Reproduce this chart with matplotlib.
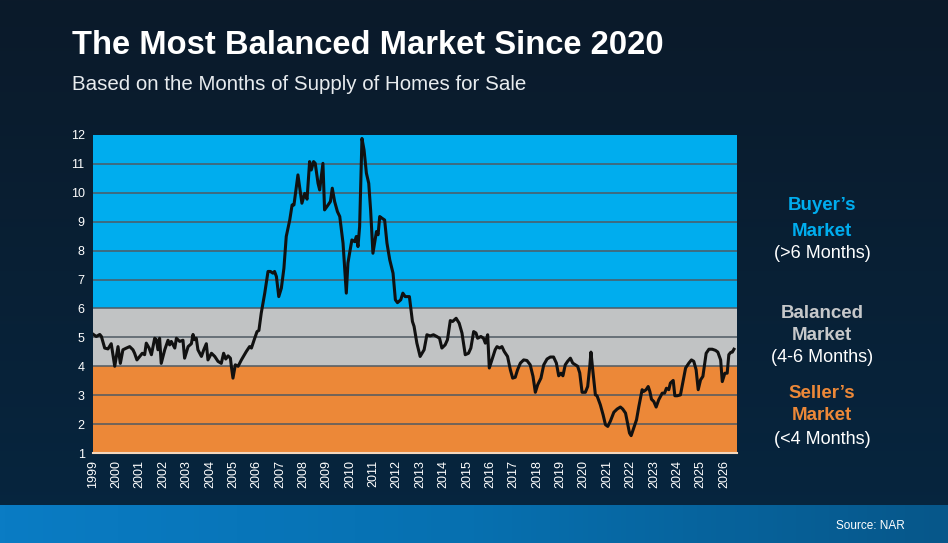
import numpy as np
import matplotlib.pyplot as plt
from matplotlib.colors import LinearSegmentedColormap

# months of supply (x = fractional year)
years = [1999.00, 1999.14, 1999.29, 1999.36, 1999.50, 1999.64, 1999.78, 1999.93, 2000.07, 2000.17,
         2000.28, 2000.43, 2000.57, 2000.71, 2000.78, 2000.88, 2001.00, 2001.11, 2001.21, 2001.28,
         2001.40, 2001.50, 2001.64, 2001.71, 2001.78, 2001.85, 2001.92, 2002.07, 2002.21, 2002.28,
         2002.35, 2002.50, 2002.57, 2002.71, 2002.85, 2002.92, 2003.07, 2003.21, 2003.28, 2003.35,
         2003.42, 2003.49, 2003.64, 2003.74, 2003.85, 2003.92, 2004.07, 2004.21, 2004.35, 2004.49,
         2004.59, 2004.68, 2004.78, 2004.88, 2004.92, 2004.99, 2005.09, 2005.21, 2005.35, 2005.56,
         2005.70, 2005.78, 2005.92, 2006.02, 2006.10, 2006.20, 2006.35, 2006.49, 2006.59, 2006.70,
         2006.77, 2006.85, 2006.95, 2007.06, 2007.17, 2007.27, 2007.42, 2007.52, 2007.60, 2007.77,
         2007.94, 2008.06, 2008.16, 2008.27, 2008.34, 2008.44, 2008.51, 2008.63, 2008.70, 2008.84,
         2008.91, 2009.06, 2009.16, 2009.24, 2009.34, 2009.46, 2009.56, 2009.70, 2009.84, 2009.91,
         2009.98, 2010.08, 2010.20, 2010.27, 2010.34, 2010.41, 2010.51, 2010.60, 2010.70, 2010.80,
         2010.88, 2010.98, 2011.05, 2011.13, 2011.20, 2011.27, 2011.37, 2011.48, 2011.58, 2011.70,
         2011.84, 2011.94, 2012.03, 2012.17, 2012.26, 2012.36, 2012.54, 2012.67, 2012.74, 2012.86,
         2013.00, 2013.17, 2013.29, 2013.43, 2013.57, 2013.71, 2013.83, 2013.93, 2014.07, 2014.17,
         2014.29, 2014.39, 2014.54, 2014.67, 2014.79, 2014.93, 2015.07, 2015.17, 2015.29, 2015.39,
         2015.46, 2015.60, 2015.71, 2015.79, 2015.89, 2015.96, 2016.07, 2016.21, 2016.29, 2016.40,
         2016.50, 2016.60, 2016.74, 2016.86, 2016.96, 2017.07, 2017.17, 2017.29, 2017.43, 2017.57,
         2017.71, 2017.83, 2017.93, 2018.03, 2018.17, 2018.29, 2018.43, 2018.57, 2018.71, 2018.83,
         2018.93, 2019.03, 2019.11, 2019.21, 2019.31, 2019.43, 2019.53, 2019.64, 2019.74, 2019.83,
         2019.93, 2020.07, 2020.17, 2020.26, 2020.31, 2020.40, 2020.50, 2020.57, 2020.71, 2020.83,
         2020.93, 2021.03, 2021.14, 2021.29, 2021.43, 2021.57, 2021.67, 2021.79, 2021.86, 2021.96,
         2022.03, 2022.14, 2022.26, 2022.36, 2022.50, 2022.57, 2022.67, 2022.76, 2022.83, 2022.90,
         2023.00, 2023.10, 2023.21, 2023.36, 2023.46, 2023.54, 2023.64, 2023.71, 2023.83, 2023.90,
         2024.00, 2024.14, 2024.21, 2024.36, 2024.50, 2024.61, 2024.71, 2024.81, 2024.90, 2025.00,
         2025.10, 2025.24, 2025.36, 2025.50, 2025.64, 2025.74, 2025.86, 2025.93, 2026.04, 2026.14,
         2026.21, 2026.29, 2026.36, 2026.43]
supply = [5.11, 5.03, 5.10, 5.03, 4.63, 4.60, 4.78, 4.00, 4.68, 4.10,
          4.57, 4.63, 4.68, 4.57, 4.45, 4.22, 4.34, 4.45, 4.40, 4.80,
          4.63, 4.40, 4.97, 4.92, 4.57, 4.97, 4.10, 4.57, 4.90, 4.74,
          4.86, 4.63, 4.97, 4.86, 4.90, 4.28, 4.68, 4.78, 5.10, 4.92,
          4.97, 4.57, 4.34, 4.57, 4.78, 4.22, 4.45, 4.34, 4.17, 4.10,
          4.45, 4.25, 4.36, 4.28, 4.00, 3.59, 4.05, 4.00, 4.22, 4.51,
          4.68, 4.63, 4.97, 5.20, 5.24, 5.84, 6.53, 7.28, 7.28, 7.22,
          7.28, 7.10, 6.41, 6.70, 7.39, 8.49, 9.06, 9.58, 9.58, 10.62,
          9.64, 9.98, 9.78, 11.08, 10.79, 11.08, 11.02, 10.33, 10.10, 11.02,
          9.41, 9.58, 9.70, 10.16, 9.70, 9.35, 9.18, 8.26, 6.53, 7.57,
          7.91, 8.37, 8.31, 8.49, 8.14, 8.83, 11.88, 11.48, 10.68, 10.33,
          9.41, 7.91, 8.26, 8.66, 8.55, 9.18, 9.12, 9.06, 8.26, 7.68,
          7.22, 6.30, 6.20, 6.30, 6.53, 6.41, 6.41, 5.55, 5.38, 4.80,
          4.34, 4.57, 5.09, 5.05, 5.09, 5.03, 4.97, 4.63, 4.74, 4.92,
          5.58, 5.55, 5.66, 5.49, 5.15, 4.40, 4.45, 4.63, 5.20, 5.15,
          4.97, 5.03, 4.97, 4.80, 5.09, 3.94, 4.22, 4.57, 4.68, 4.63,
          4.68, 4.51, 4.34, 3.88, 3.59, 3.62, 3.88, 4.11, 4.22, 4.20,
          4.05, 3.65, 3.10, 3.36, 3.59, 4.05, 4.25, 4.32, 4.32, 4.11,
          3.67, 3.76, 3.67, 4.05, 4.17, 4.28, 4.11, 4.05, 4.00, 3.77,
          3.10, 3.10, 3.30, 4.00, 4.49, 3.77, 3.01, 2.98, 2.67, 2.32,
          1.98, 1.92, 2.10, 2.41, 2.52, 2.59, 2.52, 2.38, 2.10, 1.69,
          1.60, 1.86, 2.15, 2.61, 3.19, 3.13, 3.19, 3.30, 3.13, 2.86,
          2.78, 2.59, 2.84, 3.07, 3.07, 3.24, 3.19, 3.42, 3.51, 2.98,
          2.98, 3.01, 3.30, 3.94, 4.11, 4.22, 4.17, 3.88, 3.19, 3.53,
          3.65, 4.45, 4.59, 4.59, 4.55, 4.49, 4.22, 3.47, 3.76, 3.76,
          4.40, 4.48, 4.49, 4.59]

tick_years = list(range(1999, 2027))
zones = [(1, 4, '#ec8838'), (4, 6, '#c1c3c4'), (6, 12, '#00adee')]
# (title line 1, line 2, range note, colour, pixel rows of the three lines)
zone_labels = [("Buyer\u2019s", "Market", "(>6 Months)", '#00adee', (206, 231, 253)),
               ("Balanced", "Market", "(4-6 Months)", '#c6c8ca', (314, 336, 358)),
               ("Seller\u2019s", "Market", "(<4 Months)", '#ec8838', (394, 416, 439))]

plt.rcParams['font.family'] = ['Liberation Sans', 'DejaVu Sans']

W, H = 948, 543
fig = plt.figure(figsize=(W / 100, H / 100), dpi=100)

# dark navy background + blue footer band
bg = fig.add_axes([0, 0, 1, 1], zorder=-2)
navy = LinearSegmentedColormap.from_list('navy', ['#0b1a2a', '#062640'])
bg.imshow(np.linspace(0, 1, 200).reshape(-1, 1), aspect='auto', cmap=navy,
          extent=[0, 1, 0, 1], origin='upper')
band = LinearSegmentedColormap.from_list('band', ['#0a7cc4', '#0670b0', '#07578a'])
bg.imshow(np.linspace(0, 1, 200).reshape(1, -1), aspect='auto', cmap=band,
          extent=[0, 1, 0, 38 / H])
bg.set_xlim(0, 1)
bg.set_ylim(0, 1)
bg.axis('off')

ax = fig.add_axes([93 / W, 1 - 453 / H, 644 / W, 318 / H])
for lo, hi, col in zones:
    ax.axhspan(lo, hi, color=col, zorder=0, lw=0)
for y in range(2, 12):
    ax.axhline(y, color='#4f5a63', lw=1.1, zorder=1)
ax.plot(years, supply, color='#111111', lw=2.2, zorder=3, solid_joinstyle='round')

ax.set_xlim(1999, 2026.56)
ax.set_ylim(1, 12)
ax.set_yticks(range(1, 13))
ax.set_xticks(tick_years)
ax.set_xticklabels([str(y) for y in tick_years], rotation=90)
ax.tick_params(colors='white', labelsize=9, length=0, pad=6)
ax.tick_params(axis='x', pad=5)
for s in ['top', 'right', 'left']:
    ax.spines[s].set_visible(False)
ax.spines['bottom'].set_color('#f3d7bd')
ax.spines['bottom'].set_linewidth(1.5)

fig.text(72 / W, 1 - 45 / H, 'The Most Balanced Market Since 2020', color='white',
         fontsize=23.6, fontweight='bold', va='center', ha='left')
fig.text(72 / W, 1 - 84 / H, 'Based on the Months of Supply of Homes for Sale',
         color='#e8ecef', fontsize=14.8, va='center', ha='left')

for l1, l2, note, col, rows in zone_labels:
    fig.text(822 / W, 1 - rows[0] / H, l1, color=col, fontsize=13.5, fontweight='bold',
             ha='center', va='center')
    fig.text(822 / W, 1 - rows[1] / H, l2, color=col, fontsize=13.5, fontweight='bold',
             ha='center', va='center')
    fig.text(822 / W, 1 - rows[2] / H, note, color='white', fontsize=13,
             ha='center', va='center')

fig.text(905 / W, 1 - 526 / H, 'Source: NAR', color='white', fontsize=8.5,
         ha='right', va='center')

fig.savefig('out.png', dpi=100)
